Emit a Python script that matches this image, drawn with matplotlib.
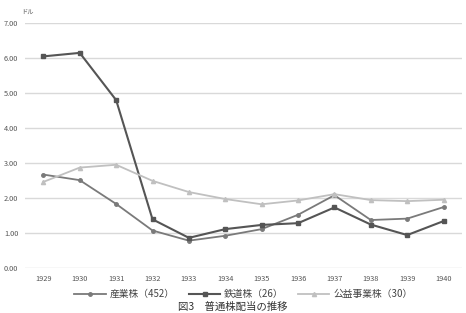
import matplotlib.pyplot as plt
import numpy as np

plt.rcParams['font.family'] = ['Noto Sans CJK JP', 'DejaVu Sans']

years = ['1929', '1930', '1931', '1932', '1933', '1934', '1935', '1936', '1937', '1938', '1939', '1940']
sangyo = [2.67, 2.51, 1.83, 1.07, 0.78, 0.92, 1.11, 1.52, 2.08, 1.37, 1.41, 1.74]
tetsudo = [6.05, 6.15, 4.80, 1.39, 0.86, 1.11, 1.23, 1.28, 1.73, 1.24, 0.94, 1.34]
koeki = [2.46, 2.87, 2.95, 2.49, 2.17, 1.97, 1.82, 1.93, 2.11, 1.94, 1.91, 1.95]
yticks = [0, 1, 2, 3, 4, 5, 6, 7]

fig = plt.figure(figsize=(4.66, 3.13), dpi=100)
ax = fig.add_axes([0.054, 0.144, 0.937, 0.782])

x = np.arange(len(years))
ax.plot(x, sangyo, color='#7a7a7a', lw=1.3, marker='o', ms=2.5, label='産業株（452）')
ax.plot(x, tetsudo, color='#555555', lw=1.5, marker='s', ms=3.5, label='鉄道株（26）')
ax.plot(x, koeki, color='#c0c0c0', lw=1.3, marker='^', ms=3, label='公益事業株（30）')

ax.set_xlim(-0.5, len(years) - 0.5)
ax.set_ylim(0, 7)
ax.set_yticks(yticks)
ax.set_yticklabels(['%.2f' % v for v in yticks], fontsize=5.3, color='#555555')
ax.set_xticks(x)
ax.set_xticklabels(years, fontsize=5.3, color='#555555')
ax.tick_params(length=0, pad=5)
ax.grid(axis='y', color='#d9d9d9', lw=1)
ax.set_axisbelow(True)
for s in ax.spines.values():
    s.set_visible(False)

fig.text(0.045, 0.955, 'ドル', fontsize=4.5, color='#555555')
ax.legend(loc='upper center', bbox_to_anchor=(0.5, -0.05), ncol=3, frameon=False,
          fontsize=7, handlelength=3.2, columnspacing=1.5, handletextpad=0.4,
          labelcolor='#444444')
fig.text(0.5, 0.003, '図3　普通株配当の推移', ha='center', va='bottom', fontsize=7.5, color='#333333')

fig.savefig('out.png', dpi=100)
